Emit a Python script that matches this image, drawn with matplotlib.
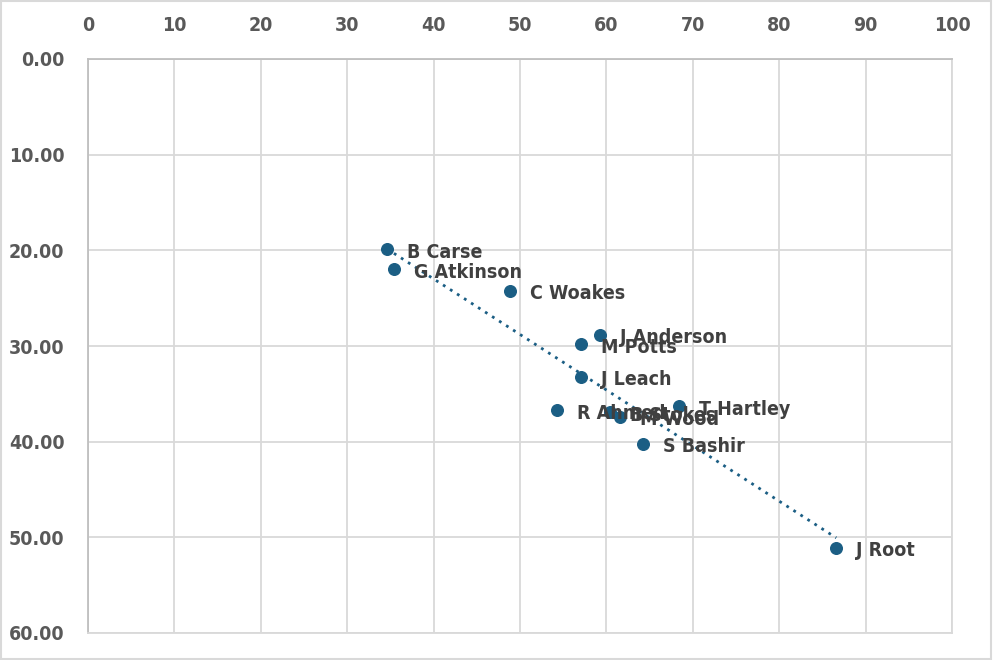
import numpy as np
import matplotlib.pyplot as plt
from matplotlib.patches import Rectangle
from matplotlib import font_manager

players = ["B Carse", "G Atkinson", "C Woakes", "J Anderson", "M Potts", "J Leach",
           "R Ahmed", "B Stokes", "M Wood", "T Hartley", "S Bashir", "J Root"]
xvals = [34.6, 35.4, 48.8, 59.3, 57.1, 57.1, 54.3, 60.4, 61.6, 68.4, 64.2, 86.6]
yvals = [19.9, 22.0, 24.2, 28.8, 29.8, 33.2, 36.7, 36.9, 37.4, 36.3, 40.2, 51.1]

xticks = [0, 10, 20, 30, 40, 50, 60, 70, 80, 90, 100]
yticks = [0, 10, 20, 30, 40, 50, 60]

names = sorted(set(f.name for f in font_manager.fontManager.ttflist))
print(names)
print([ (f.name, f.stretch, f.weight) for f in font_manager.fontManager.ttflist if 'Condensed' in f.fname or 'Narrow' in f.fname])

plt.rcParams['font.family'] = ['DejaVu Sans']
plt.rcParams['font.weight'] = 'bold'
plt.rcParams['font.stretch'] = 'condensed'

fig = plt.figure(figsize=(9.93, 6.6), dpi=100)
ax = fig.add_axes([88/993, 1-633/660, (952-88)/993, (633-59)/660])

dot = '#1b5e84'
ax.scatter(xvals, yvals, s=70, color=dot, zorder=3)

# linear trendline
k, b = np.polyfit(xvals, yvals, 1)
tx = np.array([min(xvals), max(xvals)])
ax.plot(tx, k*tx + b, linestyle=(0, (1, 2)), color=dot, lw=2, zorder=2)

for name, x, y in zip(players, xvals, yvals):
    ax.annotate(name, (x, y), xytext=(20, -3), textcoords='offset pixels',
                ha='left', va='center', fontsize=14, color='#404040', zorder=4)

ax.set_xlim(0, 100)
ax.set_ylim(60, 0)
ax.set_xticks(xticks)
ax.set_yticks(yticks)
ax.set_yticklabels([f"{v:.2f}" for v in yticks])
ax.xaxis.tick_top()
ax.tick_params(length=0, labelsize=14, labelcolor='#595959', pad=17)
ax.grid(True, color='#d9d9d9', lw=1.3)
ax.set_axisbelow(True)
for s in ['right', 'bottom']:
    ax.spines[s].set_color('#d9d9d9')
    ax.spines[s].set_linewidth(1.3)
for s in ['left', 'top']:
    ax.spines[s].set_color('#bfbfbf')
    ax.spines[s].set_linewidth(1.3)

fig.patches.append(Rectangle((0.001, 0.002), 0.997, 0.996, transform=fig.transFigure,
                             fill=False, edgecolor='#d9d9d9', lw=1.5))

fig.savefig('out.png', dpi=100)
